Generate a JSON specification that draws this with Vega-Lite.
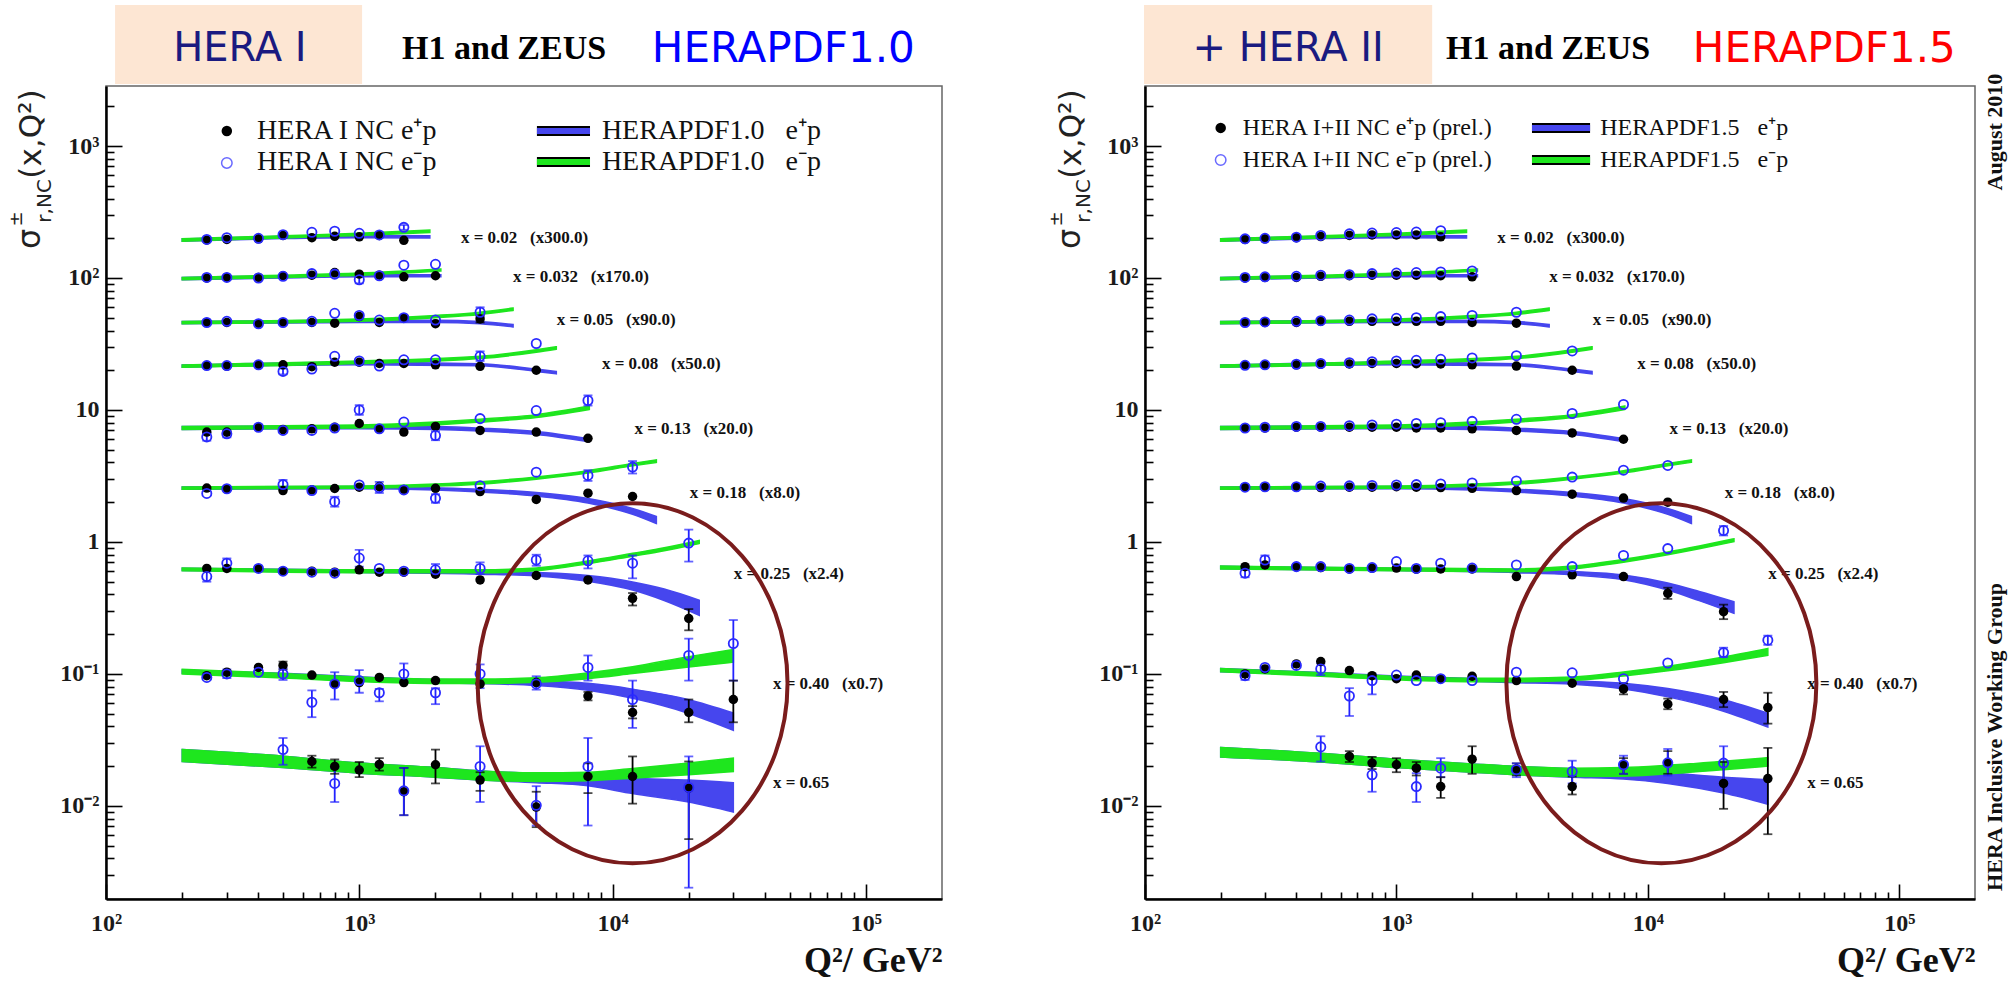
{
"$schema":"https://vega.github.io/schema/vega-lite/v6.json",
"background":"white",
"padding":{"left":7,"top":4,"right":5,"bottom":5},
"bounds":"flush",
"spacing":203,
"config":{"view":{"stroke":"#666","strokeWidth":1.5},"axis":{"grid":false,"ticks":true,"tickColor":"#000","tickWidth":1.6,"labelFont":"Liberation Serif","labelFontWeight":"bold","labelFontSize":24,"labelColor":"#1a1a1a","domainColor":"#000","domainWidth":2.5,"labelFlush":false,"labelOverlap":false}},
"datasets":{
"bands":[
{"p":"I","r":"a","c":"+","q":200,"s":190,"s2":198},{"p":"I","r":"a","c":"+","q":500,"s":199,"s2":207},{"p":"I","r":"a","c":"+","q":1000,"s":202,"s2":210},{"p":"I","r":"a","c":"+","q":1900,"s":201,"s2":209},
{"p":"I","r":"a","c":"-","q":200,"s":190,"s2":198},{"p":"I","r":"a","c":"-","q":500,"s":201,"s2":209},{"p":"I","r":"a","c":"-","q":1000,"s":210,"s2":218},{"p":"I","r":"a","c":"-","q":1900,"s":221,"s2":231},
{"p":"I","r":"b","c":"+","q":200,"s":97,"s2":101},{"p":"I","r":"b","c":"+","q":500,"s":100,"s2":104},{"p":"I","r":"b","c":"+","q":1000,"s":102,"s2":106},{"p":"I","r":"b","c":"+","q":2100,"s":102,"s2":106},
{"p":"I","r":"b","c":"-","q":200,"s":97,"s2":101},{"p":"I","r":"b","c":"-","q":500,"s":101,"s2":105},{"p":"I","r":"b","c":"-","q":1000,"s":105,"s2":109},{"p":"I","r":"b","c":"-","q":2100,"s":113,"s2":117},
{"p":"I","r":"c","c":"+","q":200,"s":45.1,"s2":46.9},{"p":"I","r":"c","c":"+","q":1000,"s":46.1,"s2":47.9},{"p":"I","r":"c","c":"+","q":2000,"s":46.1,"s2":47.9},{"p":"I","r":"c","c":"+","q":3000,"s":45.1,"s2":46.9},{"p":"I","r":"c","c":"+","q":4050,"s":42.6,"s2":44.4},
{"p":"I","r":"c","c":"-","q":200,"s":45.1,"s2":46.9},{"p":"I","r":"c","c":"-","q":1000,"s":47,"s2":49},{"p":"I","r":"c","c":"-","q":2000,"s":50,"s2":52},{"p":"I","r":"c","c":"-","q":3000,"s":52.9,"s2":55.1},{"p":"I","r":"c","c":"-","q":4050,"s":56.8,"s2":59.2},
{"p":"I","r":"d","c":"+","q":200,"s":21.1,"s2":21.9},{"p":"I","r":"d","c":"+","q":1000,"s":22,"s2":23},{"p":"I","r":"d","c":"+","q":3000,"s":21.6,"s2":22.4},{"p":"I","r":"d","c":"+","q":5000,"s":19.6,"s2":20.4},{"p":"I","r":"d","c":"+","q":6000,"s":18.8,"s2":19.6},
{"p":"I","r":"d","c":"-","q":200,"s":21.1,"s2":21.9},{"p":"I","r":"d","c":"-","q":1000,"s":22.5,"s2":23.5},{"p":"I","r":"d","c":"-","q":3000,"s":24.5,"s2":25.5},{"p":"I","r":"d","c":"-","q":5000,"s":27.4,"s2":28.6},{"p":"I","r":"d","c":"-","q":6000,"s":28.9,"s2":30.1},
{"p":"I","r":"e","c":"+","q":200,"s":7.12,"s2":7.48},{"p":"I","r":"e","c":"+","q":1000,"s":7.22,"s2":7.58},{"p":"I","r":"e","c":"+","q":2000,"s":7.12,"s2":7.48},{"p":"I","r":"e","c":"+","q":3000,"s":6.92,"s2":7.28},{"p":"I","r":"e","c":"+","q":5000,"s":6.53,"s2":6.87},{"p":"I","r":"e","c":"+","q":8100,"s":5.75,"s2":6.05},
{"p":"I","r":"e","c":"-","q":200,"s":7.12,"s2":7.48},{"p":"I","r":"e","c":"-","q":1000,"s":7.31,"s2":7.69},{"p":"I","r":"e","c":"-","q":2000,"s":7.7,"s2":8.1},{"p":"I","r":"e","c":"-","q":3000,"s":8.09,"s2":8.51},{"p":"I","r":"e","c":"-","q":5000,"s":8.78,"s2":9.22},{"p":"I","r":"e","c":"-","q":8100,"s":10.1,"s2":10.7},
{"p":"I","r":"f","c":"+","q":200,"s":2.51,"s2":2.61},{"p":"I","r":"f","c":"+","q":1000,"s":2.53,"s2":2.63},{"p":"I","r":"f","c":"+","q":2000,"s":2.47,"s2":2.57},{"p":"I","r":"f","c":"+","q":3000,"s":2.39,"s2":2.51},{"p":"I","r":"f","c":"+","q":5000,"s":2.23,"s2":2.37},{"p":"I","r":"f","c":"+","q":8000,"s":1.97,"s2":2.13},{"p":"I","r":"f","c":"+","q":12000,"s":1.62,"s2":1.79},{"p":"I","r":"f","c":"+","q":14900,"s":1.38,"s2":1.56},
{"p":"I","r":"f","c":"-","q":200,"s":2.51,"s2":2.61},{"p":"I","r":"f","c":"-","q":1000,"s":2.55,"s2":2.65},{"p":"I","r":"f","c":"-","q":2000,"s":2.65,"s2":2.75},{"p":"I","r":"f","c":"-","q":3000,"s":2.74,"s2":2.86},{"p":"I","r":"f","c":"-","q":5000,"s":2.99,"s2":3.11},{"p":"I","r":"f","c":"-","q":8000,"s":3.33,"s2":3.47},{"p":"I","r":"f","c":"-","q":12000,"s":3.77,"s2":3.93},{"p":"I","r":"f","c":"-","q":14900,"s":4.01,"s2":4.19},
{"p":"I","r":"g","c":"+","q":200,"s":0.608,"s2":0.632},{"p":"I","r":"g","c":"+","q":1000,"s":0.588,"s2":0.612},{"p":"I","r":"g","c":"+","q":3000,"s":0.57,"s2":0.6},{"p":"I","r":"g","c":"+","q":5000,"s":0.553,"s2":0.587},{"p":"I","r":"g","c":"+","q":8000,"s":0.504,"s2":0.557},{"p":"I","r":"g","c":"+","q":12000,"s":0.432,"s2":0.498},{"p":"I","r":"g","c":"+","q":16000,"s":0.36,"s2":0.44},{"p":"I","r":"g","c":"+","q":22000,"s":0.278,"s2":0.362},
{"p":"I","r":"g","c":"-","q":200,"s":0.605,"s2":0.635},{"p":"I","r":"g","c":"-","q":1000,"s":0.585,"s2":0.615},{"p":"I","r":"g","c":"-","q":3000,"s":0.585,"s2":0.615},{"p":"I","r":"g","c":"-","q":5000,"s":0.605,"s2":0.635},{"p":"I","r":"g","c":"-","q":8000,"s":0.683,"s2":0.718},{"p":"I","r":"g","c":"-","q":12000,"s":0.78,"s2":0.82},{"p":"I","r":"g","c":"-","q":16000,"s":0.858,"s2":0.902},{"p":"I","r":"g","c":"-","q":22000,"s":0.975,"s2":1.025},
{"p":"I","r":"h","c":"+","q":200,"s":0.101,"s2":0.107},{"p":"I","r":"h","c":"+","q":500,"s":0.095,"s2":0.101},{"p":"I","r":"h","c":"+","q":1000,"s":0.089,"s2":0.095},{"p":"I","r":"h","c":"+","q":2000,"s":0.0854,"s2":0.0906},{"p":"I","r":"h","c":"+","q":3000,"s":0.0844,"s2":0.0896},{"p":"I","r":"h","c":"+","q":5000,"s":0.0816,"s2":0.0884},{"p":"I","r":"h","c":"+","q":8000,"s":0.0752,"s2":0.0848},{"p":"I","r":"h","c":"+","q":12000,"s":0.0653,"s2":0.0767},{"p":"I","r":"h","c":"+","q":20000,"s":0.0502,"s2":0.0638},{"p":"I","r":"h","c":"+","q":30000,"s":0.0374,"s2":0.0506},
{"p":"I","r":"h","c":"-","q":200,"s":0.0998,"s2":0.1082},{"p":"I","r":"h","c":"-","q":500,"s":0.0931,"s2":0.1009},{"p":"I","r":"h","c":"-","q":1000,"s":0.0874,"s2":0.0946},{"p":"I","r":"h","c":"-","q":2000,"s":0.0845,"s2":0.0915},{"p":"I","r":"h","c":"-","q":3000,"s":0.0845,"s2":0.0915},{"p":"I","r":"h","c":"-","q":5000,"s":0.0864,"s2":0.0936},{"p":"I","r":"h","c":"-","q":8000,"s":0.0921,"s2":0.1019},{"p":"I","r":"h","c":"-","q":12000,"s":0.1006,"s2":0.1134},{"p":"I","r":"h","c":"-","q":20000,"s":0.1128,"s2":0.1352},{"p":"I","r":"h","c":"-","q":30000,"s":0.1228,"s2":0.1532},
{"p":"I","r":"i","c":"+","q":200,"s":0.0217,"s2":0.0267},{"p":"I","r":"i","c":"+","q":500,"s":0.0195,"s2":0.0238},{"p":"I","r":"i","c":"+","q":1000,"s":0.0177,"s2":0.0211},{"p":"I","r":"i","c":"+","q":2000,"s":0.0165,"s2":0.0195},{"p":"I","r":"i","c":"+","q":3000,"s":0.0157,"s2":0.0184},{"p":"I","r":"i","c":"+","q":5000,"s":0.015,"s2":0.0176},{"p":"I","r":"i","c":"+","q":8000,"s":0.0142,"s2":0.017},{"p":"I","r":"i","c":"+","q":12000,"s":0.0124,"s2":0.0162},{"p":"I","r":"i","c":"+","q":20000,"s":0.0107,"s2":0.0157},{"p":"I","r":"i","c":"+","q":30000,"s":0.009,"s2":0.015},
{"p":"I","r":"i","c":"-","q":200,"s":0.0217,"s2":0.0267},{"p":"I","r":"i","c":"-","q":500,"s":0.0195,"s2":0.0238},{"p":"I","r":"i","c":"-","q":1000,"s":0.0177,"s2":0.0211},{"p":"I","r":"i","c":"-","q":2000,"s":0.0165,"s2":0.0195},{"p":"I","r":"i","c":"-","q":3000,"s":0.0157,"s2":0.0184},{"p":"I","r":"i","c":"-","q":5000,"s":0.0153,"s2":0.0178},{"p":"I","r":"i","c":"-","q":8000,"s":0.0155,"s2":0.018},{"p":"I","r":"i","c":"-","q":12000,"s":0.0162,"s2":0.0192},{"p":"I","r":"i","c":"-","q":20000,"s":0.0172,"s2":0.0211},{"p":"I","r":"i","c":"-","q":30000,"s":0.0182,"s2":0.023},
{"p":"II","r":"a","c":"+","q":200,"s":190,"s2":198},{"p":"II","r":"a","c":"+","q":500,"s":199,"s2":207},{"p":"II","r":"a","c":"+","q":1000,"s":202,"s2":210},{"p":"II","r":"a","c":"+","q":1900,"s":201,"s2":209},
{"p":"II","r":"a","c":"-","q":200,"s":190,"s2":198},{"p":"II","r":"a","c":"-","q":500,"s":201,"s2":209},{"p":"II","r":"a","c":"-","q":1000,"s":210,"s2":218},{"p":"II","r":"a","c":"-","q":1900,"s":221,"s2":231},
{"p":"II","r":"b","c":"+","q":200,"s":97,"s2":101},{"p":"II","r":"b","c":"+","q":500,"s":100,"s2":104},{"p":"II","r":"b","c":"+","q":1000,"s":102,"s2":106},{"p":"II","r":"b","c":"+","q":2100,"s":102,"s2":106},
{"p":"II","r":"b","c":"-","q":200,"s":97,"s2":101},{"p":"II","r":"b","c":"-","q":500,"s":101,"s2":105},{"p":"II","r":"b","c":"-","q":1000,"s":105,"s2":109},{"p":"II","r":"b","c":"-","q":2100,"s":113,"s2":117},
{"p":"II","r":"c","c":"+","q":200,"s":45.1,"s2":46.9},{"p":"II","r":"c","c":"+","q":1000,"s":46.1,"s2":47.9},{"p":"II","r":"c","c":"+","q":2000,"s":46.1,"s2":47.9},{"p":"II","r":"c","c":"+","q":3000,"s":45.1,"s2":46.9},{"p":"II","r":"c","c":"+","q":4050,"s":42.6,"s2":44.4},
{"p":"II","r":"c","c":"-","q":200,"s":45.1,"s2":46.9},{"p":"II","r":"c","c":"-","q":1000,"s":47,"s2":49},{"p":"II","r":"c","c":"-","q":2000,"s":50,"s2":52},{"p":"II","r":"c","c":"-","q":3000,"s":52.9,"s2":55.1},{"p":"II","r":"c","c":"-","q":4050,"s":56.8,"s2":59.2},
{"p":"II","r":"d","c":"+","q":200,"s":21.1,"s2":21.9},{"p":"II","r":"d","c":"+","q":1000,"s":22,"s2":23},{"p":"II","r":"d","c":"+","q":3000,"s":21.6,"s2":22.4},{"p":"II","r":"d","c":"+","q":5000,"s":19.6,"s2":20.4},{"p":"II","r":"d","c":"+","q":6000,"s":18.8,"s2":19.6},
{"p":"II","r":"d","c":"-","q":200,"s":21.1,"s2":21.9},{"p":"II","r":"d","c":"-","q":1000,"s":22.5,"s2":23.5},{"p":"II","r":"d","c":"-","q":3000,"s":24.5,"s2":25.5},{"p":"II","r":"d","c":"-","q":5000,"s":27.4,"s2":28.6},{"p":"II","r":"d","c":"-","q":6000,"s":28.9,"s2":30.1},
{"p":"II","r":"e","c":"+","q":200,"s":7.12,"s2":7.48},{"p":"II","r":"e","c":"+","q":1000,"s":7.22,"s2":7.58},{"p":"II","r":"e","c":"+","q":2000,"s":7.12,"s2":7.48},{"p":"II","r":"e","c":"+","q":3000,"s":6.92,"s2":7.28},{"p":"II","r":"e","c":"+","q":5000,"s":6.53,"s2":6.87},{"p":"II","r":"e","c":"+","q":8100,"s":5.75,"s2":6.05},
{"p":"II","r":"e","c":"-","q":200,"s":7.12,"s2":7.48},{"p":"II","r":"e","c":"-","q":1000,"s":7.31,"s2":7.69},{"p":"II","r":"e","c":"-","q":2000,"s":7.7,"s2":8.1},{"p":"II","r":"e","c":"-","q":3000,"s":8.09,"s2":8.51},{"p":"II","r":"e","c":"-","q":5000,"s":8.78,"s2":9.22},{"p":"II","r":"e","c":"-","q":8100,"s":10.1,"s2":10.7},
{"p":"II","r":"f","c":"+","q":200,"s":2.51,"s2":2.61},{"p":"II","r":"f","c":"+","q":1000,"s":2.53,"s2":2.63},{"p":"II","r":"f","c":"+","q":2000,"s":2.47,"s2":2.57},{"p":"II","r":"f","c":"+","q":3000,"s":2.39,"s2":2.51},{"p":"II","r":"f","c":"+","q":5000,"s":2.23,"s2":2.37},{"p":"II","r":"f","c":"+","q":8000,"s":1.97,"s2":2.13},{"p":"II","r":"f","c":"+","q":12000,"s":1.62,"s2":1.79},{"p":"II","r":"f","c":"+","q":14900,"s":1.38,"s2":1.56},
{"p":"II","r":"f","c":"-","q":200,"s":2.51,"s2":2.61},{"p":"II","r":"f","c":"-","q":1000,"s":2.55,"s2":2.65},{"p":"II","r":"f","c":"-","q":2000,"s":2.65,"s2":2.75},{"p":"II","r":"f","c":"-","q":3000,"s":2.74,"s2":2.86},{"p":"II","r":"f","c":"-","q":5000,"s":2.99,"s2":3.11},{"p":"II","r":"f","c":"-","q":8000,"s":3.33,"s2":3.47},{"p":"II","r":"f","c":"-","q":12000,"s":3.77,"s2":3.93},{"p":"II","r":"f","c":"-","q":14900,"s":4.01,"s2":4.19},
{"p":"II","r":"g","c":"+","q":200,"s":0.627,"s2":0.653},{"p":"II","r":"g","c":"+","q":1000,"s":0.608,"s2":0.632},{"p":"II","r":"g","c":"+","q":3000,"s":0.585,"s2":0.615},{"p":"II","r":"g","c":"+","q":5000,"s":0.563,"s2":0.597},{"p":"II","r":"g","c":"+","q":8000,"s":0.518,"s2":0.562},{"p":"II","r":"g","c":"+","q":12000,"s":0.432,"s2":0.488},{"p":"II","r":"g","c":"+","q":16000,"s":0.359,"s2":0.421},{"p":"II","r":"g","c":"+","q":22000,"s":0.288,"s2":0.352},
{"p":"II","r":"g","c":"-","q":200,"s":0.624,"s2":0.656},{"p":"II","r":"g","c":"-","q":1000,"s":0.605,"s2":0.635},{"p":"II","r":"g","c":"-","q":3000,"s":0.595,"s2":0.625},{"p":"II","r":"g","c":"-","q":5000,"s":0.624,"s2":0.656},{"p":"II","r":"g","c":"-","q":8000,"s":0.702,"s2":0.738},{"p":"II","r":"g","c":"-","q":12000,"s":0.8,"s2":0.84},{"p":"II","r":"g","c":"-","q":16000,"s":0.887,"s2":0.933},{"p":"II","r":"g","c":"-","q":22000,"s":1.004,"s2":1.056},
{"p":"II","r":"h","c":"+","q":200,"s":0.104,"s2":0.11},{"p":"II","r":"h","c":"+","q":500,"s":0.0975,"s2":0.1025},{"p":"II","r":"h","c":"+","q":1000,"s":0.0917,"s2":0.0964},{"p":"II","r":"h","c":"+","q":2000,"s":0.0878,"s2":0.0923},{"p":"II","r":"h","c":"+","q":3000,"s":0.0858,"s2":0.0902},{"p":"II","r":"h","c":"+","q":5000,"s":0.0834,"s2":0.0886},{"p":"II","r":"h","c":"+","q":8000,"s":0.077,"s2":0.0851},{"p":"II","r":"h","c":"+","q":12000,"s":0.067,"s2":0.0774},{"p":"II","r":"h","c":"+","q":20000,"s":0.0522,"s2":0.0638},{"p":"II","r":"h","c":"+","q":30000,"s":0.0396,"s2":0.0504},
{"p":"II","r":"h","c":"-","q":200,"s":0.104,"s2":0.11},{"p":"II","r":"h","c":"-","q":500,"s":0.096,"s2":0.102},{"p":"II","r":"h","c":"-","q":1000,"s":0.0902,"s2":0.0958},{"p":"II","r":"h","c":"-","q":2000,"s":0.0873,"s2":0.0927},{"p":"II","r":"h","c":"-","q":3000,"s":0.0873,"s2":0.0927},{"p":"II","r":"h","c":"-","q":5000,"s":0.0892,"s2":0.0948},{"p":"II","r":"h","c":"-","q":8000,"s":0.0965,"s2":0.1035},{"p":"II","r":"h","c":"-","q":12000,"s":0.1056,"s2":0.1144},{"p":"II","r":"h","c":"-","q":20000,"s":0.1216,"s2":0.1344},{"p":"II","r":"h","c":"-","q":30000,"s":0.1382,"s2":0.1558},
{"p":"II","r":"i","c":"+","q":200,"s":0.0235,"s2":0.0277},{"p":"II","r":"i","c":"+","q":500,"s":0.0215,"s2":0.025},{"p":"II","r":"i","c":"+","q":1000,"s":0.0195,"s2":0.0226},{"p":"II","r":"i","c":"+","q":2000,"s":0.018,"s2":0.0208},{"p":"II","r":"i","c":"+","q":3000,"s":0.0172,"s2":0.0199},{"p":"II","r":"i","c":"+","q":5000,"s":0.0165,"s2":0.0191},{"p":"II","r":"i","c":"+","q":8000,"s":0.016,"s2":0.0186},{"p":"II","r":"i","c":"+","q":12000,"s":0.0148,"s2":0.0178},{"p":"II","r":"i","c":"+","q":20000,"s":0.0125,"s2":0.0165},{"p":"II","r":"i","c":"+","q":30000,"s":0.0103,"s2":0.0158},
{"p":"II","r":"i","c":"-","q":200,"s":0.0235,"s2":0.0277},{"p":"II","r":"i","c":"-","q":500,"s":0.0215,"s2":0.025},{"p":"II","r":"i","c":"-","q":1000,"s":0.0195,"s2":0.0226},{"p":"II","r":"i","c":"-","q":2000,"s":0.018,"s2":0.0208},{"p":"II","r":"i","c":"-","q":3000,"s":0.0172,"s2":0.0199},{"p":"II","r":"i","c":"-","q":5000,"s":0.0167,"s2":0.0193},{"p":"II","r":"i","c":"-","q":8000,"s":0.0168,"s2":0.0195},{"p":"II","r":"i","c":"-","q":12000,"s":0.0175,"s2":0.0203},{"p":"II","r":"i","c":"-","q":20000,"s":0.0188,"s2":0.0218},{"p":"II","r":"i","c":"-","q":30000,"s":0.02,"s2":0.0232}
],
"pts":[
{"p":"I","q":250,"c":"+","s":194},{"p":"I","q":300,"c":"+","s":196},{"p":"I","q":400,"c":"+","s":198},{"p":"I","q":500,"c":"+","s":210},{"p":"I","q":650,"c":"+","s":202},{"p":"I","q":800,"c":"+","s":207},{"p":"I","q":1000,"c":"+","s":205},{"p":"I","q":1200,"c":"+","s":210},{"p":"I","q":1500,"c":"+","s":193},
{"p":"I","q":250,"c":"-","s":196},{"p":"I","q":300,"c":"-","s":202},{"p":"I","q":400,"c":"-","s":200},{"p":"I","q":500,"c":"-","s":213},{"p":"I","q":650,"c":"-","s":222},{"p":"I","q":800,"c":"-","s":226},{"p":"I","q":1000,"c":"-","s":218},{"p":"I","q":1200,"c":"-","s":212},{"p":"I","q":1500,"c":"-","s":242,"lo":232,"hi":252},
{"p":"I","q":250,"c":"+","s":100},{"p":"I","q":300,"c":"+","s":101},{"p":"I","q":400,"c":"+","s":101},{"p":"I","q":500,"c":"+","s":104},{"p":"I","q":650,"c":"+","s":105},{"p":"I","q":800,"c":"+","s":110},{"p":"I","q":1000,"c":"+","s":107},{"p":"I","q":1200,"c":"+","s":105},{"p":"I","q":1500,"c":"+","s":102},{"p":"I","q":2000,"c":"+","s":104},
{"p":"I","q":250,"c":"-","s":101},{"p":"I","q":300,"c":"-","s":101},{"p":"I","q":400,"c":"-","s":100},{"p":"I","q":500,"c":"-","s":103},{"p":"I","q":650,"c":"-","s":108},{"p":"I","q":800,"c":"-","s":107},{"p":"I","q":1000,"c":"-","s":97,"lo":91,"hi":103},{"p":"I","q":1200,"c":"-","s":104},{"p":"I","q":1500,"c":"-","s":125},{"p":"I","q":2000,"c":"-","s":127},
{"p":"I","q":250,"c":"+","s":46},{"p":"I","q":300,"c":"+","s":46},{"p":"I","q":400,"c":"+","s":45},{"p":"I","q":500,"c":"+","s":46},{"p":"I","q":650,"c":"+","s":46},{"p":"I","q":800,"c":"+","s":45.5},{"p":"I","q":1000,"c":"+","s":51},{"p":"I","q":1200,"c":"+","s":46},{"p":"I","q":1500,"c":"+","s":50},{"p":"I","q":2000,"c":"+","s":45},{"p":"I","q":3000,"c":"+","s":49,"lo":46,"hi":52},
{"p":"I","q":250,"c":"-","s":46},{"p":"I","q":300,"c":"-","s":47},{"p":"I","q":400,"c":"-","s":45},{"p":"I","q":500,"c":"-","s":46},{"p":"I","q":650,"c":"-","s":47},{"p":"I","q":800,"c":"-","s":54},{"p":"I","q":1000,"c":"-","s":52},{"p":"I","q":1200,"c":"-","s":48},{"p":"I","q":1500,"c":"-","s":50},{"p":"I","q":2000,"c":"-","s":48},{"p":"I","q":3000,"c":"-","s":55,"lo":51,"hi":60},
{"p":"I","q":250,"c":"+","s":21.7},{"p":"I","q":300,"c":"+","s":21.5},{"p":"I","q":400,"c":"+","s":22},{"p":"I","q":500,"c":"+","s":22},{"p":"I","q":650,"c":"+","s":21.3},{"p":"I","q":800,"c":"+","s":23},{"p":"I","q":1000,"c":"+","s":23},{"p":"I","q":1200,"c":"+","s":22.5},{"p":"I","q":1500,"c":"+","s":22.5},{"p":"I","q":2000,"c":"+","s":22},{"p":"I","q":3000,"c":"+","s":21.4},{"p":"I","q":5000,"c":"+","s":20},
{"p":"I","q":250,"c":"-","s":21.7},{"p":"I","q":300,"c":"-","s":21.7},{"p":"I","q":400,"c":"-","s":22},{"p":"I","q":500,"c":"-","s":19.6,"lo":18.6,"hi":20.6},{"p":"I","q":650,"c":"-","s":20.4},{"p":"I","q":800,"c":"-","s":25.5},{"p":"I","q":1000,"c":"-","s":23.5},{"p":"I","q":1200,"c":"-","s":21.5},{"p":"I","q":1500,"c":"-","s":24},{"p":"I","q":2000,"c":"-","s":24},{"p":"I","q":3000,"c":"-","s":25.5,"lo":23.5,"hi":27.8},{"p":"I","q":5000,"c":"-","s":31.9},
{"p":"I","q":250,"c":"+","s":6.8},{"p":"I","q":300,"c":"+","s":6.8},{"p":"I","q":400,"c":"+","s":7.4},{"p":"I","q":500,"c":"+","s":7.1},{"p":"I","q":650,"c":"+","s":7.2},{"p":"I","q":800,"c":"+","s":7.4},{"p":"I","q":1000,"c":"+","s":7.9},{"p":"I","q":1200,"c":"+","s":7.2},{"p":"I","q":1500,"c":"+","s":6.8},{"p":"I","q":2000,"c":"+","s":7.5},{"p":"I","q":3000,"c":"+","s":7.0},{"p":"I","q":5000,"c":"+","s":6.8},{"p":"I","q":8000,"c":"+","s":6.1},
{"p":"I","q":250,"c":"-","s":6.25,"lo":5.85,"hi":6.7},{"p":"I","q":300,"c":"-","s":6.6,"lo":6.2,"hi":7.0},{"p":"I","q":400,"c":"-","s":7.4},{"p":"I","q":500,"c":"-","s":7.0},{"p":"I","q":650,"c":"-","s":7.0},{"p":"I","q":800,"c":"-","s":7.3},{"p":"I","q":1000,"c":"-","s":10,"lo":9.2,"hi":10.9},{"p":"I","q":1200,"c":"-","s":7.2},{"p":"I","q":1500,"c":"-","s":8.1},{"p":"I","q":2000,"c":"-","s":6.4,"lo":5.9,"hi":6.9},{"p":"I","q":3000,"c":"-","s":8.6},{"p":"I","q":5000,"c":"-","s":9.9},{"p":"I","q":8000,"c":"-","s":11.8,"lo":10.8,"hi":12.9},
{"p":"I","q":250,"c":"+","s":2.56},{"p":"I","q":300,"c":"+","s":2.53},{"p":"I","q":500,"c":"+","s":2.45},{"p":"I","q":650,"c":"+","s":2.48},{"p":"I","q":800,"c":"+","s":2.54},{"p":"I","q":1000,"c":"+","s":2.6},{"p":"I","q":1200,"c":"+","s":2.63},{"p":"I","q":1500,"c":"+","s":2.5},{"p":"I","q":2000,"c":"+","s":2.55},{"p":"I","q":3000,"c":"+","s":2.41},{"p":"I","q":5000,"c":"+","s":2.1},{"p":"I","q":8000,"c":"+","s":2.34},{"p":"I","q":12000,"c":"+","s":2.21},
{"p":"I","q":250,"c":"-","s":2.33},{"p":"I","q":300,"c":"-","s":2.53},{"p":"I","q":500,"c":"-","s":2.72,"lo":2.5,"hi":2.95},{"p":"I","q":650,"c":"-","s":2.45},{"p":"I","q":800,"c":"-","s":2.02,"lo":1.85,"hi":2.2},{"p":"I","q":1000,"c":"-","s":2.7},{"p":"I","q":1200,"c":"-","s":2.57,"lo":2.35,"hi":2.85},{"p":"I","q":1500,"c":"-","s":2.48},{"p":"I","q":2000,"c":"-","s":2.14,"lo":1.98,"hi":2.3},{"p":"I","q":3000,"c":"-","s":2.67},{"p":"I","q":5000,"c":"-","s":3.38},{"p":"I","q":8000,"c":"-","s":3.19,"lo":2.9,"hi":3.5},{"p":"I","q":12000,"c":"-","s":3.69,"lo":3.3,"hi":4.1},
{"p":"I","q":250,"c":"+","s":0.63},{"p":"I","q":300,"c":"+","s":0.63},{"p":"I","q":400,"c":"+","s":0.63},{"p":"I","q":500,"c":"+","s":0.6},{"p":"I","q":650,"c":"+","s":0.6},{"p":"I","q":800,"c":"+","s":0.59},{"p":"I","q":1000,"c":"+","s":0.615},{"p":"I","q":1200,"c":"+","s":0.59},{"p":"I","q":1500,"c":"+","s":0.59},{"p":"I","q":2000,"c":"+","s":0.57},{"p":"I","q":3000,"c":"+","s":0.515},{"p":"I","q":5000,"c":"+","s":0.557},{"p":"I","q":8000,"c":"+","s":0.515},{"p":"I","q":12000,"c":"+","s":0.374,"lo":0.33,"hi":0.41},{"p":"I","q":20000,"c":"+","s":0.263,"lo":0.214,"hi":0.31},
{"p":"I","q":250,"c":"-","s":0.547,"lo":0.5,"hi":0.6},{"p":"I","q":300,"c":"-","s":0.69,"lo":0.63,"hi":0.75},{"p":"I","q":400,"c":"-","s":0.63},{"p":"I","q":500,"c":"-","s":0.6},{"p":"I","q":650,"c":"-","s":0.59},{"p":"I","q":800,"c":"-","s":0.58},{"p":"I","q":1000,"c":"-","s":0.755,"lo":0.65,"hi":0.87},{"p":"I","q":1200,"c":"-","s":0.63},{"p":"I","q":1500,"c":"-","s":0.6},{"p":"I","q":2000,"c":"-","s":0.615,"lo":0.56,"hi":0.68},{"p":"I","q":3000,"c":"-","s":0.63,"lo":0.57,"hi":0.7},{"p":"I","q":5000,"c":"-","s":0.73,"lo":0.66,"hi":0.8},{"p":"I","q":8000,"c":"-","s":0.72,"lo":0.63,"hi":0.79},{"p":"I","q":12000,"c":"-","s":0.69,"lo":0.53,"hi":0.79},{"p":"I","q":20000,"c":"-","s":0.98,"lo":0.71,"hi":1.24},
{"p":"I","q":250,"c":"+","s":0.097},{"p":"I","q":300,"c":"+","s":0.103},{"p":"I","q":400,"c":"+","s":0.112},{"p":"I","q":500,"c":"+","s":0.116,"lo":0.108,"hi":0.124},{"p":"I","q":650,"c":"+","s":0.098},{"p":"I","q":800,"c":"+","s":0.084},{"p":"I","q":1000,"c":"+","s":0.086},{"p":"I","q":1200,"c":"+","s":0.094},{"p":"I","q":1500,"c":"+","s":0.086},{"p":"I","q":2000,"c":"+","s":0.089},{"p":"I","q":3000,"c":"+","s":0.084},{"p":"I","q":5000,"c":"+","s":0.086},{"p":"I","q":8000,"c":"+","s":0.068,"lo":0.063,"hi":0.073},{"p":"I","q":12000,"c":"+","s":0.051,"lo":0.046,"hi":0.057},{"p":"I","q":20000,"c":"+","s":0.051,"lo":0.043,"hi":0.064},{"p":"I","q":30000,"c":"+","s":0.064,"lo":0.043,"hi":0.089},
{"p":"I","q":250,"c":"-","s":0.094},{"p":"I","q":300,"c":"-","s":0.1,"lo":0.093,"hi":0.108},{"p":"I","q":400,"c":"-","s":0.103},{"p":"I","q":500,"c":"-","s":0.1,"lo":0.09,"hi":0.11},{"p":"I","q":650,"c":"-","s":0.061,"lo":0.047,"hi":0.075},{"p":"I","q":800,"c":"-","s":0.084,"lo":0.064,"hi":0.103},{"p":"I","q":1000,"c":"-","s":0.089,"lo":0.072,"hi":0.107},{"p":"I","q":1200,"c":"-","s":0.072,"lo":0.062,"hi":0.077},{"p":"I","q":1500,"c":"-","s":0.1,"lo":0.089,"hi":0.12},{"p":"I","q":2000,"c":"-","s":0.072,"lo":0.059,"hi":0.078},{"p":"I","q":3000,"c":"-","s":0.1,"lo":0.078,"hi":0.118},{"p":"I","q":5000,"c":"-","s":0.084,"lo":0.076,"hi":0.096},{"p":"I","q":8000,"c":"-","s":0.112,"lo":0.089,"hi":0.138},{"p":"I","q":12000,"c":"-","s":0.064,"lo":0.039,"hi":0.089},{"p":"I","q":20000,"c":"-","s":0.138,"lo":0.089,"hi":0.185},{"p":"I","q":30000,"c":"-","s":0.17,"lo":0.089,"hi":0.256},
{"p":"I","q":650,"c":"+","s":0.0217,"lo":0.0195,"hi":0.024},{"p":"I","q":800,"c":"+","s":0.0199,"lo":0.0175,"hi":0.0225},{"p":"I","q":1000,"c":"+","s":0.0187,"lo":0.0165,"hi":0.0215},{"p":"I","q":1200,"c":"+","s":0.0206,"lo":0.0185,"hi":0.023},{"p":"I","q":1500,"c":"+","s":0.0128,"lo":0.0085,"hi":0.0194},{"p":"I","q":2000,"c":"+","s":0.0205,"lo":0.0148,"hi":0.0267},{"p":"I","q":3000,"c":"+","s":0.0157,"lo":0.013,"hi":0.018},{"p":"I","q":5000,"c":"+","s":0.0098,"lo":0.0069,"hi":0.0128},{"p":"I","q":8000,"c":"+","s":0.0167,"lo":0.0125,"hi":0.021},{"p":"I","q":12000,"c":"+","s":0.0167,"lo":0.0104,"hi":0.0237},{"p":"I","q":20000,"c":"+","s":0.0136,"lo":0.0056,"hi":0.0217},
{"p":"I","q":500,"c":"-","s":0.0267,"lo":0.0205,"hi":0.0327},{"p":"I","q":800,"c":"-","s":0.0148,"lo":0.0107,"hi":0.0194},{"p":"I","q":1500,"c":"-","s":0.013,"lo":0.0085,"hi":0.0194},{"p":"I","q":3000,"c":"-","s":0.0199,"lo":0.0107,"hi":0.0283},{"p":"I","q":5000,"c":"-","s":0.0101,"lo":0.0071,"hi":0.0141},{"p":"I","q":8000,"c":"-","s":0.0199,"lo":0.0071,"hi":0.0327},{"p":"I","q":20000,"c":"-","s":0.0138,"lo":0.0024,"hi":0.0237},
{"p":"II","q":250,"c":"+","s":196},{"p":"II","q":300,"c":"+","s":198},{"p":"II","q":400,"c":"+","s":202},{"p":"II","q":500,"c":"+","s":206},{"p":"II","q":650,"c":"+","s":210},{"p":"II","q":800,"c":"+","s":212},{"p":"II","q":1000,"c":"+","s":212},{"p":"II","q":1200,"c":"+","s":212},{"p":"II","q":1500,"c":"+","s":205},
{"p":"II","q":250,"c":"-","s":198},{"p":"II","q":300,"c":"-","s":200},{"p":"II","q":400,"c":"-","s":204},{"p":"II","q":500,"c":"-","s":210},{"p":"II","q":650,"c":"-","s":216},{"p":"II","q":800,"c":"-","s":219},{"p":"II","q":1000,"c":"-","s":221},{"p":"II","q":1200,"c":"-","s":223},{"p":"II","q":1500,"c":"-","s":228},
{"p":"II","q":250,"c":"+","s":100},{"p":"II","q":300,"c":"+","s":101},{"p":"II","q":400,"c":"+","s":101},{"p":"II","q":500,"c":"+","s":103},{"p":"II","q":650,"c":"+","s":104},{"p":"II","q":800,"c":"+","s":105},{"p":"II","q":1000,"c":"+","s":105},{"p":"II","q":1200,"c":"+","s":105},{"p":"II","q":1500,"c":"+","s":104},{"p":"II","q":2000,"c":"+","s":102},
{"p":"II","q":250,"c":"-","s":101},{"p":"II","q":300,"c":"-","s":102},{"p":"II","q":400,"c":"-","s":103},{"p":"II","q":500,"c":"-","s":105},{"p":"II","q":650,"c":"-","s":106},{"p":"II","q":800,"c":"-","s":108},{"p":"II","q":1000,"c":"-","s":109},{"p":"II","q":1200,"c":"-","s":110},{"p":"II","q":1500,"c":"-","s":111},{"p":"II","q":2000,"c":"-","s":113},
{"p":"II","q":250,"c":"+","s":46},{"p":"II","q":300,"c":"+","s":46},{"p":"II","q":400,"c":"+","s":46},{"p":"II","q":500,"c":"+","s":47},{"p":"II","q":650,"c":"+","s":47},{"p":"II","q":800,"c":"+","s":47},{"p":"II","q":1000,"c":"+","s":47},{"p":"II","q":1200,"c":"+","s":47},{"p":"II","q":1500,"c":"+","s":47},{"p":"II","q":2000,"c":"+","s":46},{"p":"II","q":3000,"c":"+","s":45.5},
{"p":"II","q":250,"c":"-","s":46},{"p":"II","q":300,"c":"-","s":46.5},{"p":"II","q":400,"c":"-","s":47},{"p":"II","q":500,"c":"-","s":47.5},{"p":"II","q":650,"c":"-","s":48},{"p":"II","q":800,"c":"-","s":49},{"p":"II","q":1000,"c":"-","s":49.5},{"p":"II","q":1200,"c":"-","s":50},{"p":"II","q":1500,"c":"-","s":51},{"p":"II","q":2000,"c":"-","s":52},{"p":"II","q":3000,"c":"-","s":55},
{"p":"II","q":250,"c":"+","s":21.8},{"p":"II","q":300,"c":"+","s":22},{"p":"II","q":400,"c":"+","s":22},{"p":"II","q":500,"c":"+","s":22.2},{"p":"II","q":650,"c":"+","s":22.3},{"p":"II","q":800,"c":"+","s":22.5},{"p":"II","q":1000,"c":"+","s":22.5},{"p":"II","q":1200,"c":"+","s":22.4},{"p":"II","q":1500,"c":"+","s":22.3},{"p":"II","q":2000,"c":"+","s":22},{"p":"II","q":3000,"c":"+","s":21.5},{"p":"II","q":5000,"c":"+","s":20},
{"p":"II","q":250,"c":"-","s":21.8},{"p":"II","q":300,"c":"-","s":22},{"p":"II","q":400,"c":"-","s":22.2},{"p":"II","q":500,"c":"-","s":22.5},{"p":"II","q":650,"c":"-","s":22.8},{"p":"II","q":800,"c":"-","s":23.2},{"p":"II","q":1000,"c":"-","s":23.5},{"p":"II","q":1200,"c":"-","s":23.8},{"p":"II","q":1500,"c":"-","s":24.2},{"p":"II","q":2000,"c":"-","s":24.8},{"p":"II","q":3000,"c":"-","s":25.8},{"p":"II","q":5000,"c":"-","s":28},
{"p":"II","q":250,"c":"+","s":7.3},{"p":"II","q":300,"c":"+","s":7.3},{"p":"II","q":400,"c":"+","s":7.4},{"p":"II","q":500,"c":"+","s":7.4},{"p":"II","q":650,"c":"+","s":7.4},{"p":"II","q":800,"c":"+","s":7.4},{"p":"II","q":1000,"c":"+","s":7.4},{"p":"II","q":1200,"c":"+","s":7.3},{"p":"II","q":1500,"c":"+","s":7.3},{"p":"II","q":2000,"c":"+","s":7.2},{"p":"II","q":3000,"c":"+","s":7.0},{"p":"II","q":5000,"c":"+","s":6.7},{"p":"II","q":8000,"c":"+","s":6.0},
{"p":"II","q":250,"c":"-","s":7.3},{"p":"II","q":300,"c":"-","s":7.4},{"p":"II","q":400,"c":"-","s":7.5},{"p":"II","q":500,"c":"-","s":7.5},{"p":"II","q":650,"c":"-","s":7.6},{"p":"II","q":800,"c":"-","s":7.7},{"p":"II","q":1000,"c":"-","s":7.8},{"p":"II","q":1200,"c":"-","s":7.9},{"p":"II","q":1500,"c":"-","s":8.0},{"p":"II","q":2000,"c":"-","s":8.2},{"p":"II","q":3000,"c":"-","s":8.5},{"p":"II","q":5000,"c":"-","s":9.4},{"p":"II","q":8000,"c":"-","s":11},
{"p":"II","q":250,"c":"+","s":2.6},{"p":"II","q":300,"c":"+","s":2.6},{"p":"II","q":400,"c":"+","s":2.6},{"p":"II","q":500,"c":"+","s":2.58},{"p":"II","q":650,"c":"+","s":2.6},{"p":"II","q":800,"c":"+","s":2.6},{"p":"II","q":1000,"c":"+","s":2.62},{"p":"II","q":1200,"c":"+","s":2.6},{"p":"II","q":1500,"c":"+","s":2.58},{"p":"II","q":2000,"c":"+","s":2.55},{"p":"II","q":3000,"c":"+","s":2.45},{"p":"II","q":5000,"c":"+","s":2.3},{"p":"II","q":8000,"c":"+","s":2.15},{"p":"II","q":12000,"c":"+","s":2.0},
{"p":"II","q":250,"c":"-","s":2.6},{"p":"II","q":300,"c":"-","s":2.62},{"p":"II","q":400,"c":"-","s":2.62},{"p":"II","q":500,"c":"-","s":2.65},{"p":"II","q":650,"c":"-","s":2.66},{"p":"II","q":800,"c":"-","s":2.68},{"p":"II","q":1000,"c":"-","s":2.7},{"p":"II","q":1200,"c":"-","s":2.72},{"p":"II","q":1500,"c":"-","s":2.75},{"p":"II","q":2000,"c":"-","s":2.8},{"p":"II","q":3000,"c":"-","s":2.9},{"p":"II","q":5000,"c":"-","s":3.1},{"p":"II","q":8000,"c":"-","s":3.5},{"p":"II","q":12000,"c":"-","s":3.8},
{"p":"II","q":250,"c":"+","s":0.65},{"p":"II","q":300,"c":"+","s":0.67},{"p":"II","q":400,"c":"+","s":0.65},{"p":"II","q":500,"c":"+","s":0.64},{"p":"II","q":650,"c":"+","s":0.625},{"p":"II","q":800,"c":"+","s":0.634},{"p":"II","q":1000,"c":"+","s":0.634},{"p":"II","q":1200,"c":"+","s":0.622},{"p":"II","q":1500,"c":"+","s":0.625},{"p":"II","q":2000,"c":"+","s":0.625},{"p":"II","q":3000,"c":"+","s":0.547},{"p":"II","q":5000,"c":"+","s":0.563},{"p":"II","q":8000,"c":"+","s":0.547},{"p":"II","q":12000,"c":"+","s":0.408,"lo":0.37,"hi":0.45},{"p":"II","q":20000,"c":"+","s":0.296,"lo":0.26,"hi":0.335},
{"p":"II","q":250,"c":"-","s":0.58,"lo":0.54,"hi":0.62},{"p":"II","q":300,"c":"-","s":0.73,"lo":0.67,"hi":0.79},{"p":"II","q":400,"c":"-","s":0.65},{"p":"II","q":500,"c":"-","s":0.65},{"p":"II","q":650,"c":"-","s":0.63},{"p":"II","q":800,"c":"-","s":0.64},{"p":"II","q":1000,"c":"-","s":0.71},{"p":"II","q":1200,"c":"-","s":0.63},{"p":"II","q":1500,"c":"-","s":0.69},{"p":"II","q":2000,"c":"-","s":0.634},{"p":"II","q":3000,"c":"-","s":0.67},{"p":"II","q":5000,"c":"-","s":0.65},{"p":"II","q":8000,"c":"-","s":0.79},{"p":"II","q":12000,"c":"-","s":0.89},{"p":"II","q":20000,"c":"-","s":1.22,"lo":1.12,"hi":1.32},
{"p":"II","q":250,"c":"+","s":0.1},{"p":"II","q":300,"c":"+","s":0.109},{"p":"II","q":400,"c":"+","s":0.119},{"p":"II","q":500,"c":"+","s":0.124},{"p":"II","q":650,"c":"+","s":0.106},{"p":"II","q":800,"c":"+","s":0.097},{"p":"II","q":1000,"c":"+","s":0.092},{"p":"II","q":1200,"c":"+","s":0.098},{"p":"II","q":1500,"c":"+","s":0.092},{"p":"II","q":2000,"c":"+","s":0.096},{"p":"II","q":3000,"c":"+","s":0.089},{"p":"II","q":5000,"c":"+","s":0.085},{"p":"II","q":8000,"c":"+","s":0.077,"lo":0.07,"hi":0.085},{"p":"II","q":12000,"c":"+","s":0.059,"lo":0.054,"hi":0.065},{"p":"II","q":20000,"c":"+","s":0.064,"lo":0.056,"hi":0.073},{"p":"II","q":30000,"c":"+","s":0.0556,"lo":0.042,"hi":0.072},
{"p":"II","q":250,"c":"-","s":0.097,"lo":0.09,"hi":0.105},{"p":"II","q":300,"c":"-","s":0.112},{"p":"II","q":400,"c":"-","s":0.116},{"p":"II","q":500,"c":"-","s":0.109,"lo":0.098,"hi":0.12},{"p":"II","q":650,"c":"-","s":0.068,"lo":0.048,"hi":0.078},{"p":"II","q":800,"c":"-","s":0.089,"lo":0.07,"hi":0.1},{"p":"II","q":1000,"c":"-","s":0.098},{"p":"II","q":1200,"c":"-","s":0.089},{"p":"II","q":1500,"c":"-","s":0.092},{"p":"II","q":2000,"c":"-","s":0.089},{"p":"II","q":3000,"c":"-","s":0.103},{"p":"II","q":5000,"c":"-","s":0.102},{"p":"II","q":8000,"c":"-","s":0.092},{"p":"II","q":12000,"c":"-","s":0.121},{"p":"II","q":20000,"c":"-","s":0.145,"lo":0.134,"hi":0.158},{"p":"II","q":30000,"c":"-","s":0.18,"lo":0.166,"hi":0.195},
{"p":"II","q":650,"c":"+","s":0.0237,"lo":0.0215,"hi":0.026},{"p":"II","q":800,"c":"+","s":0.0211,"lo":0.019,"hi":0.0235},{"p":"II","q":1000,"c":"+","s":0.0205,"lo":0.018,"hi":0.023},{"p":"II","q":1200,"c":"+","s":0.0193,"lo":0.017,"hi":0.0215},{"p":"II","q":1500,"c":"+","s":0.014,"lo":0.0115,"hi":0.0165},{"p":"II","q":2000,"c":"+","s":0.0226,"lo":0.0175,"hi":0.0283},{"p":"II","q":3000,"c":"+","s":0.019,"lo":0.017,"hi":0.021},{"p":"II","q":5000,"c":"+","s":0.014,"lo":0.0122,"hi":0.0167},{"p":"II","q":8000,"c":"+","s":0.0203,"lo":0.0175,"hi":0.023},{"p":"II","q":12000,"c":"+","s":0.0211,"lo":0.0175,"hi":0.026},{"p":"II","q":20000,"c":"+","s":0.0148,"lo":0.0095,"hi":0.0215},{"p":"II","q":30000,"c":"+","s":0.0161,"lo":0.0061,"hi":0.0275},
{"p":"II","q":500,"c":"-","s":0.028,"lo":0.0217,"hi":0.0337},{"p":"II","q":800,"c":"-","s":0.0172,"lo":0.0128,"hi":0.0217},{"p":"II","q":1200,"c":"-","s":0.014,"lo":0.0107,"hi":0.0177},{"p":"II","q":1500,"c":"-","s":0.0193,"lo":0.0165,"hi":0.023},{"p":"II","q":3000,"c":"-","s":0.0188,"lo":0.0165,"hi":0.021},{"p":"II","q":5000,"c":"-","s":0.0182,"lo":0.0148,"hi":0.022},{"p":"II","q":8000,"c":"-","s":0.0205,"lo":0.0175,"hi":0.024},{"p":"II","q":12000,"c":"-","s":0.0212,"lo":0.017,"hi":0.027},{"p":"II","q":20000,"c":"-","s":0.0211,"lo":0.0143,"hi":0.0283}
],
"rowlab":[{"q":2520,"s":201,"t":"x = 0.02\u00a0\u00a0\u00a0(x300.0)"},{"q":4050,"s":102,"t":"x = 0.032\u00a0\u00a0\u00a0(x170.0)"},{"q":6030,"s":48.1,"t":"x = 0.05\u00a0\u00a0\u00a0(x90.0)"},{"q":9080,"s":22.3,"t":"x = 0.08\u00a0\u00a0\u00a0(x50.0)"},{"q":12200,"s":7.2,"t":"x = 0.13\u00a0\u00a0\u00a0(x20.0)"},{"q":20200,"s":2.36,"t":"x = 0.18\u00a0\u00a0\u00a0(x8.0)"},{"q":30100,"s":0.573,"t":"x = 0.25\u00a0\u00a0\u00a0(x2.4)"},{"q":43000,"s":0.0841,"t":"x = 0.40\u00a0\u00a0\u00a0(x0.7)"},{"q":43000,"s":0.015,"t":"x = 0.65"}]
},
"hconcat":[
{
"width":836,"height":813,
"encoding":{
"x":{"field":"q","type":"quantitative","scale":{"type":"log","domain":[100,200000],"nice":false},"axis":{"values":[100,200,300,400,500,600,700,800,900,1000,2000,3000,4000,5000,6000,7000,8000,9000,10000,20000,30000,40000,50000,60000,70000,80000,90000,100000],"labelExpr":"datum.value==100?'10²':datum.value==1000?'10³':datum.value==10000?'10⁴':datum.value==100000?'10⁵':''","tickSize":{"condition":{"test":"indexof([100,1000,10000,100000],datum.value)>=0","value":-15},"value":-7},"labelPadding":27,"title":"Q²/ GeV²","titleFont":"Liberation Serif","titleFontSize":36,"titleFontWeight":"bold","titleAnchor":"end","titlePadding":0,"titleColor":"#111"}},
"y":{"field":"s","type":"quantitative","scale":{"type":"log","domain":[0.00197,2850],"nice":false},"axis":{"values":[0.003,0.004,0.005,0.006,0.007,0.008,0.009,0.01,0.02,0.03,0.04,0.05,0.06,0.07,0.08,0.09,0.1,0.2,0.3,0.4,0.5,0.6,0.7,0.8,0.9,1,2,3,4,5,6,7,8,9,10,20,30,40,50,60,70,80,90,100,200,300,400,500,600,700,800,900,1000,2000],"labelExpr":"datum.value==1000?'10³':datum.value==100?'10²':datum.value==10?'10':datum.value==1?'1':datum.value==0.1?'10⁻¹':datum.value==0.01?'10⁻²':''","tickSize":{"condition":{"test":"indexof([0.01,0.1,1,10,100,1000],datum.value)>=0","value":-16},"value":-8},"labelPadding":23,"title":null}}
},
"layer":[
{"data":{"values":[{"q":108.6,"q2":1026,"s":2950,"s2":11730}]},"mark":{"type":"rect","color":"#fde6d3"},"encoding":{"x2":{"field":"q2"},"y2":{"field":"s2"}}},
{"data":{"values":[{"q":338,"s":5430,"t":"HERA I"}]},"mark":{"type":"text","font":"DejaVu Sans","fontSize":40,"color":"#1a1a80","align":"center","baseline":"middle"},"encoding":{"text":{"field":"t"}}},
{"data":{"values":[{"q":1476,"s":5430,"t":"H1 and ZEUS"}]},"mark":{"type":"text","font":"Liberation Serif","fontWeight":"bold","fontSize":34,"color":"#000","align":"left","baseline":"middle"},"encoding":{"text":{"field":"t"}}},
{"data":{"values":[{"q":14300,"s":5430,"t":"HERAPDF1.0"}]},"mark":{"type":"text","font":"DejaVu Sans","fontSize":42,"color":"#0000ff","align":"left","baseline":"middle"},"encoding":{"text":{"field":"t"}}},
{"data":{"name":"bands"},"transform":[{"filter":"datum.p=='I' && datum.c=='+'"}],"mark":{"type":"area","color":"#4646ee","stroke":"#4646ee","strokeWidth":1.5,"interpolate":"monotone","opacity":1},"encoding":{"y2":{"field":"s2"},"detail":{"field":"r","type":"nominal"}}},
{"data":{"name":"bands"},"transform":[{"filter":"datum.p=='I' && datum.c=='-'"}],"mark":{"type":"area","color":"#1ee61e","stroke":"#1ee61e","strokeWidth":1.5,"interpolate":"monotone","opacity":1},"encoding":{"y2":{"field":"s2"},"detail":{"field":"r","type":"nominal"}}},
{"data":{"name":"pts"},"transform":[{"filter":"datum.p=='I' && isValid(datum.lo)"}],"mark":{"type":"rule","strokeWidth":1.8},"encoding":{"y":{"field":"lo","type":"quantitative","scale":{"type":"log","domain":[0.00197,2850],"nice":false},"axis":{"values":[0.003,0.004,0.005,0.006,0.007,0.008,0.009,0.01,0.02,0.03,0.04,0.05,0.06,0.07,0.08,0.09,0.1,0.2,0.3,0.4,0.5,0.6,0.7,0.8,0.9,1,2,3,4,5,6,7,8,9,10,20,30,40,50,60,70,80,90,100,200,300,400,500,600,700,800,900,1000,2000],"labelExpr":"datum.value==1000?'10³':datum.value==100?'10²':datum.value==10?'10':datum.value==1?'1':datum.value==0.1?'10⁻¹':datum.value==0.01?'10⁻²':''","tickSize":{"condition":{"test":"indexof([0.01,0.1,1,10,100,1000],datum.value)>=0","value":-16},"value":-8},"labelPadding":23,"title":null}},"y2":{"field":"hi"},"color":{"field":"c","type":"nominal","scale":{"domain":["+","-"],"range":["#000000","#2222ff"]},"legend":null}}},
{"data":{"name":"pts"},"transform":[{"filter":"datum.p=='I' && isValid(datum.lo)"}],"mark":{"type":"tick","orient":"horizontal","size":9,"thickness":1.8},"encoding":{"y":{"field":"lo","type":"quantitative","scale":{"type":"log","domain":[0.00197,2850],"nice":false},"axis":{"values":[0.003,0.004,0.005,0.006,0.007,0.008,0.009,0.01,0.02,0.03,0.04,0.05,0.06,0.07,0.08,0.09,0.1,0.2,0.3,0.4,0.5,0.6,0.7,0.8,0.9,1,2,3,4,5,6,7,8,9,10,20,30,40,50,60,70,80,90,100,200,300,400,500,600,700,800,900,1000,2000],"labelExpr":"datum.value==1000?'10³':datum.value==100?'10²':datum.value==10?'10':datum.value==1?'1':datum.value==0.1?'10⁻¹':datum.value==0.01?'10⁻²':''","tickSize":{"condition":{"test":"indexof([0.01,0.1,1,10,100,1000],datum.value)>=0","value":-16},"value":-8},"labelPadding":23,"title":null}},"color":{"field":"c","type":"nominal","scale":{"domain":["+","-"],"range":["#000000","#2222ff"]},"legend":null}}},
{"data":{"name":"pts"},"transform":[{"filter":"datum.p=='I' && isValid(datum.lo)"}],"mark":{"type":"tick","orient":"horizontal","size":9,"thickness":1.8},"encoding":{"y":{"field":"hi","type":"quantitative","scale":{"type":"log","domain":[0.00197,2850],"nice":false},"axis":{"values":[0.003,0.004,0.005,0.006,0.007,0.008,0.009,0.01,0.02,0.03,0.04,0.05,0.06,0.07,0.08,0.09,0.1,0.2,0.3,0.4,0.5,0.6,0.7,0.8,0.9,1,2,3,4,5,6,7,8,9,10,20,30,40,50,60,70,80,90,100,200,300,400,500,600,700,800,900,1000,2000],"labelExpr":"datum.value==1000?'10³':datum.value==100?'10²':datum.value==10?'10':datum.value==1?'1':datum.value==0.1?'10⁻¹':datum.value==0.01?'10⁻²':''","tickSize":{"condition":{"test":"indexof([0.01,0.1,1,10,100,1000],datum.value)>=0","value":-16},"value":-8},"labelPadding":23,"title":null}},"color":{"field":"c","type":"nominal","scale":{"domain":["+","-"],"range":["#000000","#2222ff"]},"legend":null}}},
{"data":{"name":"pts"},"transform":[{"filter":"datum.p=='I' && datum.c=='+'"}],"mark":{"type":"point","filled":true,"color":"#000","size":90,"opacity":1}},
{"data":{"name":"pts"},"transform":[{"filter":"datum.p=='I' && datum.c=='-'"}],"mark":{"type":"point","filled":false,"color":"#2a2aff","strokeWidth":1.8,"size":85,"opacity":1}},
{"data":{"name":"rowlab"},"mark":{"type":"text","font":"Liberation Serif","fontWeight":"bold","fontSize":17,"color":"#111","align":"left","baseline":"middle"},"encoding":{"text":{"field":"t"}}},
{"data":{"values":[{"q":5030,"q2":8150,"s":1300},{"q":5030,"q2":8150,"s":757}]},"mark":{"type":"rule","color":"#000","strokeWidth":10},"encoding":{"x2":{"field":"q2"}}},
{"data":{"values":[{"q":5030,"q2":8150,"s":1300}]},"mark":{"type":"rule","color":"#4646ee","strokeWidth":6},"encoding":{"x2":{"field":"q2"}}},
{"data":{"values":[{"q":5030,"q2":8150,"s":757}]},"mark":{"type":"rule","color":"#1ee61e","strokeWidth":6},"encoding":{"x2":{"field":"q2"}}},
{"data":{"values":[{"q":300,"s":1300}]},"mark":{"type":"point","filled":true,"color":"#000","size":110,"opacity":1}},
{"data":{"values":[{"q":300,"s":745}]},"mark":{"type":"point","filled":false,"color":"#6a6aff","strokeWidth":1.5,"size":110,"opacity":1}},
{"data":{"values":[{"q":395,"s":1300,"t":"HERA I NC e⁺p"},{"q":395,"s":757,"t":"HERA I NC e⁻p"},{"q":9080,"s":1300,"t":"HERAPDF1.0\u00a0\u00a0\u00a0e⁺p"},{"q":9080,"s":757,"t":"HERAPDF1.0\u00a0\u00a0\u00a0e⁻p"}]},"mark":{"type":"text","font":"Liberation Serif","fontSize":28,"color":"#111","align":"left","baseline":"middle"},"encoding":{"text":{"field":"t"}}},
{"data":{"values":[{"q":50.1,"s":198,"t":"σ"}]},"mark":{"type":"text","font":"DejaVu Sans","fontSize":32,"color":"#222","angle":270,"align":"center","baseline":"middle"},"encoding":{"text":{"field":"t"}}},
{"data":{"values":[{"q":44.5,"s":280,"t":"±"}]},"mark":{"type":"text","font":"DejaVu Sans","fontSize":18,"color":"#222","angle":270,"align":"center","baseline":"middle"},"encoding":{"text":{"field":"t"}}},
{"data":{"values":[{"q":57.4,"s":384,"t":"r,NC"}]},"mark":{"type":"text","font":"DejaVu Sans","fontSize":20,"color":"#222","angle":270,"align":"center","baseline":"middle"},"encoding":{"text":{"field":"t"}}},
{"data":{"values":[{"q":51.1,"s":1233,"t":"(x,Q²)"}]},"mark":{"type":"text","font":"DejaVu Sans","fontSize":31,"color":"#222","angle":270,"align":"center","baseline":"middle"},"encoding":{"text":{"field":"t"}}},
{"data":{"values":[{"q":12000,"s":0.0848}]},"mark":{"type":"point","shape":"M -0.861 0 A 0.861 1 0 1 1 0.861 0 A 0.861 1 0 1 1 -0.861 0 Z","size":129600,"filled":false,"color":"#7a1c1c","strokeWidth":4,"opacity":1}}
]
},
{
"width":830,"height":813,
"encoding":{
"x":{"field":"q","type":"quantitative","scale":{"type":"log","domain":[100,200000],"nice":false},"axis":{"values":[100,200,300,400,500,600,700,800,900,1000,2000,3000,4000,5000,6000,7000,8000,9000,10000,20000,30000,40000,50000,60000,70000,80000,90000,100000],"labelExpr":"datum.value==100?'10²':datum.value==1000?'10³':datum.value==10000?'10⁴':datum.value==100000?'10⁵':''","tickSize":{"condition":{"test":"indexof([100,1000,10000,100000],datum.value)>=0","value":-15},"value":-7},"labelPadding":27,"title":"Q²/ GeV²","titleFont":"Liberation Serif","titleFontSize":36,"titleFontWeight":"bold","titleAnchor":"end","titlePadding":0,"titleColor":"#111"}},
"y":{"field":"s","type":"quantitative","scale":{"type":"log","domain":[0.00197,2850],"nice":false},"axis":{"values":[0.003,0.004,0.005,0.006,0.007,0.008,0.009,0.01,0.02,0.03,0.04,0.05,0.06,0.07,0.08,0.09,0.1,0.2,0.3,0.4,0.5,0.6,0.7,0.8,0.9,1,2,3,4,5,6,7,8,9,10,20,30,40,50,60,70,80,90,100,200,300,400,500,600,700,800,900,1000,2000],"labelExpr":"datum.value==1000?'10³':datum.value==100?'10²':datum.value==10?'10':datum.value==1?'1':datum.value==0.1?'10⁻¹':datum.value==0.01?'10⁻²':''","tickSize":{"condition":{"test":"indexof([0.01,0.1,1,10,100,1000],datum.value)>=0","value":-16},"value":-8},"labelPadding":23,"title":null}}
},
"layer":[
{"data":{"values":[{"q":99.1,"q2":1387,"s":2950,"s2":11730}]},"mark":{"type":"rect","color":"#fde6d3"},"encoding":{"x2":{"field":"q2"},"y2":{"field":"s2"}}},
{"data":{"values":[{"q":371,"s":5430,"t":"+ HERA II"}]},"mark":{"type":"text","font":"DejaVu Sans","fontSize":40,"color":"#1a1a80","align":"center","baseline":"middle"},"encoding":{"text":{"field":"t"}}},
{"data":{"values":[{"q":1575,"s":5430,"t":"H1 and ZEUS"}]},"mark":{"type":"text","font":"Liberation Serif","fontWeight":"bold","fontSize":34,"color":"#000","align":"left","baseline":"middle"},"encoding":{"text":{"field":"t"}}},
{"data":{"values":[{"q":15100,"s":5430,"t":"HERAPDF1.5"}]},"mark":{"type":"text","font":"DejaVu Sans","fontSize":42,"color":"#ff0000","align":"left","baseline":"middle"},"encoding":{"text":{"field":"t"}}},
{"data":{"name":"bands"},"transform":[{"filter":"datum.p=='II' && datum.c=='+'"}],"mark":{"type":"area","color":"#4646ee","stroke":"#4646ee","strokeWidth":1.5,"interpolate":"monotone","opacity":1},"encoding":{"y2":{"field":"s2"},"detail":{"field":"r","type":"nominal"}}},
{"data":{"name":"bands"},"transform":[{"filter":"datum.p=='II' && datum.c=='-'"}],"mark":{"type":"area","color":"#1ee61e","stroke":"#1ee61e","strokeWidth":1.5,"interpolate":"monotone","opacity":1},"encoding":{"y2":{"field":"s2"},"detail":{"field":"r","type":"nominal"}}},
{"data":{"name":"pts"},"transform":[{"filter":"datum.p=='II' && isValid(datum.lo)"}],"mark":{"type":"rule","strokeWidth":1.8},"encoding":{"y":{"field":"lo","type":"quantitative","scale":{"type":"log","domain":[0.00197,2850],"nice":false},"axis":{"values":[0.003,0.004,0.005,0.006,0.007,0.008,0.009,0.01,0.02,0.03,0.04,0.05,0.06,0.07,0.08,0.09,0.1,0.2,0.3,0.4,0.5,0.6,0.7,0.8,0.9,1,2,3,4,5,6,7,8,9,10,20,30,40,50,60,70,80,90,100,200,300,400,500,600,700,800,900,1000,2000],"labelExpr":"datum.value==1000?'10³':datum.value==100?'10²':datum.value==10?'10':datum.value==1?'1':datum.value==0.1?'10⁻¹':datum.value==0.01?'10⁻²':''","tickSize":{"condition":{"test":"indexof([0.01,0.1,1,10,100,1000],datum.value)>=0","value":-16},"value":-8},"labelPadding":23,"title":null}},"y2":{"field":"hi"},"color":{"field":"c","type":"nominal","scale":{"domain":["+","-"],"range":["#000000","#2222ff"]},"legend":null}}},
{"data":{"name":"pts"},"transform":[{"filter":"datum.p=='II' && isValid(datum.lo)"}],"mark":{"type":"tick","orient":"horizontal","size":9,"thickness":1.8},"encoding":{"y":{"field":"lo","type":"quantitative","scale":{"type":"log","domain":[0.00197,2850],"nice":false},"axis":{"values":[0.003,0.004,0.005,0.006,0.007,0.008,0.009,0.01,0.02,0.03,0.04,0.05,0.06,0.07,0.08,0.09,0.1,0.2,0.3,0.4,0.5,0.6,0.7,0.8,0.9,1,2,3,4,5,6,7,8,9,10,20,30,40,50,60,70,80,90,100,200,300,400,500,600,700,800,900,1000,2000],"labelExpr":"datum.value==1000?'10³':datum.value==100?'10²':datum.value==10?'10':datum.value==1?'1':datum.value==0.1?'10⁻¹':datum.value==0.01?'10⁻²':''","tickSize":{"condition":{"test":"indexof([0.01,0.1,1,10,100,1000],datum.value)>=0","value":-16},"value":-8},"labelPadding":23,"title":null}},"color":{"field":"c","type":"nominal","scale":{"domain":["+","-"],"range":["#000000","#2222ff"]},"legend":null}}},
{"data":{"name":"pts"},"transform":[{"filter":"datum.p=='II' && isValid(datum.lo)"}],"mark":{"type":"tick","orient":"horizontal","size":9,"thickness":1.8},"encoding":{"y":{"field":"hi","type":"quantitative","scale":{"type":"log","domain":[0.00197,2850],"nice":false},"axis":{"values":[0.003,0.004,0.005,0.006,0.007,0.008,0.009,0.01,0.02,0.03,0.04,0.05,0.06,0.07,0.08,0.09,0.1,0.2,0.3,0.4,0.5,0.6,0.7,0.8,0.9,1,2,3,4,5,6,7,8,9,10,20,30,40,50,60,70,80,90,100,200,300,400,500,600,700,800,900,1000,2000],"labelExpr":"datum.value==1000?'10³':datum.value==100?'10²':datum.value==10?'10':datum.value==1?'1':datum.value==0.1?'10⁻¹':datum.value==0.01?'10⁻²':''","tickSize":{"condition":{"test":"indexof([0.01,0.1,1,10,100,1000],datum.value)>=0","value":-16},"value":-8},"labelPadding":23,"title":null}},"color":{"field":"c","type":"nominal","scale":{"domain":["+","-"],"range":["#000000","#2222ff"]},"legend":null}}},
{"data":{"name":"pts"},"transform":[{"filter":"datum.p=='II' && datum.c=='+'"}],"mark":{"type":"point","filled":true,"color":"#000","size":90,"opacity":1}},
{"data":{"name":"pts"},"transform":[{"filter":"datum.p=='II' && datum.c=='-'"}],"mark":{"type":"point","filled":false,"color":"#2a2aff","strokeWidth":1.8,"size":85,"opacity":1}},
{"data":{"name":"rowlab"},"mark":{"type":"text","font":"Liberation Serif","fontWeight":"bold","fontSize":17,"color":"#111","align":"left","baseline":"middle"},"encoding":{"text":{"field":"t"}}},
{"data":{"values":[{"q":3460,"q2":5890,"s":1372},{"q":3460,"q2":5890,"s":783}]},"mark":{"type":"rule","color":"#000","strokeWidth":10},"encoding":{"x2":{"field":"q2"}}},
{"data":{"values":[{"q":3460,"q2":5890,"s":1372}]},"mark":{"type":"rule","color":"#4646ee","strokeWidth":6},"encoding":{"x2":{"field":"q2"}}},
{"data":{"values":[{"q":3460,"q2":5890,"s":783}]},"mark":{"type":"rule","color":"#1ee61e","strokeWidth":6},"encoding":{"x2":{"field":"q2"}}},
{"data":{"values":[{"q":200,"s":1372}]},"mark":{"type":"point","filled":true,"color":"#000","size":110,"opacity":1}},
{"data":{"values":[{"q":200,"s":783}]},"mark":{"type":"point","filled":false,"color":"#6a6aff","strokeWidth":1.5,"size":110,"opacity":1}},
{"data":{"values":[{"q":245,"s":1372,"t":"HERA I+II NC e⁺p (prel.)"},{"q":245,"s":783,"t":"HERA I+II NC e⁻p (prel.)"},{"q":6460,"s":1372,"t":"HERAPDF1.5\u00a0\u00a0\u00a0e⁺p"},{"q":6460,"s":783,"t":"HERAPDF1.5\u00a0\u00a0\u00a0e⁻p"}]},"mark":{"type":"text","font":"Liberation Serif","fontSize":24,"color":"#111","align":"left","baseline":"middle"},"encoding":{"text":{"field":"t"}}},
{"data":{"values":[{"q":50.1,"s":198,"t":"σ"}]},"mark":{"type":"text","font":"DejaVu Sans","fontSize":32,"color":"#222","angle":270,"align":"center","baseline":"middle"},"encoding":{"text":{"field":"t"}}},
{"data":{"values":[{"q":44.5,"s":280,"t":"±"}]},"mark":{"type":"text","font":"DejaVu Sans","fontSize":18,"color":"#222","angle":270,"align":"center","baseline":"middle"},"encoding":{"text":{"field":"t"}}},
{"data":{"values":[{"q":57.4,"s":384,"t":"r,NC"}]},"mark":{"type":"text","font":"DejaVu Sans","fontSize":20,"color":"#222","angle":270,"align":"center","baseline":"middle"},"encoding":{"text":{"field":"t"}}},
{"data":{"values":[{"q":51.1,"s":1233,"t":"(x,Q²)"}]},"mark":{"type":"text","font":"DejaVu Sans","fontSize":31,"color":"#222","angle":270,"align":"center","baseline":"middle"},"encoding":{"text":{"field":"t"}}},
{"data":{"values":[{"q":240000,"s":1276,"t":"August 2010"},{"q":240000,"s":0.0333,"t":"HERA Inclusive Working Group"}]},"mark":{"type":"text","font":"Liberation Serif","fontWeight":"bold","fontSize":22,"color":"#111","angle":270,"align":"center","baseline":"middle"},"encoding":{"text":{"field":"t"}}},
{"data":{"values":[{"q":11320,"s":0.0848}]},"mark":{"type":"point","shape":"M -0.861 0 A 0.861 1 0 1 1 0.861 0 A 0.861 1 0 1 1 -0.861 0 Z","size":129600,"filled":false,"color":"#7a1c1c","strokeWidth":4,"opacity":1}}
]
}
]
}
